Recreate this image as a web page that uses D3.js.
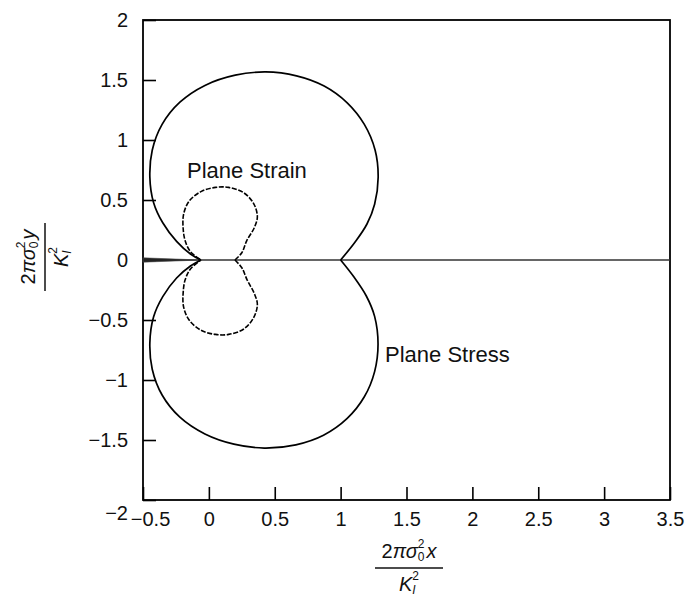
<!DOCTYPE html>
<html>
<head>
<meta charset="utf-8">
<script src="https://cdn.jsdelivr.net/npm/d3@7/dist/d3.min.js"></script>
<style>
  html, body { margin: 0; padding: 0; background: #fff; }
  svg { display: block; font-family: "Liberation Sans", Arial, Helvetica, sans-serif; }
</style>
</head>
<body>
<svg id="chart" width="693" height="599"></svg>
<script>
// ---------------- data ----------------
const xTicks = [-0.5, 0, 0.5, 1, 1.5, 2, 2.5, 3, 3.5];
const xTickLabels = ["−0.5", "0", "0.5", "1", "1.5", "2", "2.5", "3", "3.5"];
const yTicks = [-2, -1.5, -1, -0.5, 0, 0.5, 1, 1.5, 2];
const yTickLabels = ["−2", "−1.5", "−1", "−0.5", "0", "0.5", "1", "1.5", "2"];

// Plane stress plastic zone boundary, upper half (from right cusp, counter-clockwise)
const stressUpper = [
  [1.0, 0], [1.11, 0.15], [1.2, 0.3], [1.258, 0.465], [1.285, 0.69],
  [1.262, 0.915], [1.18, 1.13], [1.05, 1.31], [0.875, 1.45], [0.665, 1.535],
  [0.43, 1.567], [0.2, 1.54], [-0.03, 1.455], [-0.22, 1.315], [-0.355, 1.13],
  [-0.43, 0.915], [-0.448, 0.69], [-0.42, 0.48], [-0.35, 0.31],
  [-0.245, 0.155], [-0.14, 0.05], [-0.06, 0]
];
// Plane stress, lower half (from right cusp, clockwise)
const stressLower = [
  [1.0, 0], [1.1, -0.14], [1.195, -0.3], [1.258, -0.47], [1.284, -0.7],
  [1.258, -0.93], [1.18, -1.14], [1.05, -1.32], [0.87, -1.46], [0.66, -1.54],
  [0.42, -1.567], [0.19, -1.535], [-0.03, -1.45], [-0.22, -1.31], [-0.355, -1.125],
  [-0.43, -0.91], [-0.448, -0.69], [-0.42, -0.475], [-0.35, -0.305],
  [-0.245, -0.15], [-0.14, -0.05], [-0.06, 0]
];
// Plane strain boundary, upper lobe
const strainUpper = [
  [0.198, 0], [0.25, 0.06], [0.287, 0.16], [0.345, 0.27], [0.368, 0.36],
  [0.34, 0.47], [0.265, 0.56], [0.15, 0.605], [0.05, 0.605], [-0.06, 0.57],
  [-0.15, 0.49], [-0.192, 0.38], [-0.195, 0.26], [-0.18, 0.16],
  [-0.14, 0.07], [-0.06, 0]
];
// Plane strain boundary, lower lobe
const strainLower = [
  [0.198, 0], [0.25, -0.065], [0.29, -0.165], [0.345, -0.28], [0.368, -0.37],
  [0.34, -0.48], [0.265, -0.575], [0.15, -0.62], [0.05, -0.62], [-0.06, -0.585],
  [-0.15, -0.5], [-0.192, -0.39], [-0.195, -0.27], [-0.18, -0.165],
  [-0.14, -0.075], [-0.06, 0]
];
// Crack flanks (wedge from the left edge to the crack tip)
const crack = [[-0.5, 0.018], [-0.06, 0], [-0.5, -0.018]];

const annotations = [
  { text: "Plane Strain", x: -0.166, y: 0.683 },
  { text: "Plane Stress", x: 1.337, y: -0.85 }
];

// ---------------- layout ----------------
const svg = d3.select("#chart");
const mLeft = 143, mRight = 670, mTop = 20, mBottom = 500;

const x = d3.scaleLinear().domain([-0.5, 3.5]).range([mLeft, mRight]);
const y = d3.scaleLinear().domain([-2, 2]).range([mBottom, mTop]);

const tickFont = 20;

// axes
const xAxis = d3.axisBottom(x).tickValues(xTicks)
  .tickFormat((d, i) => xTickLabels[i]).tickSize(-13).tickPadding(12);
const yAxis = d3.axisLeft(y).tickValues(yTicks)
  .tickFormat((d, i) => yTickLabels[i]).tickSize(-13).tickPadding(15);

const gx = svg.append("g").attr("transform", `translate(0,${mBottom})`).call(xAxis);
const gy = svg.append("g").attr("transform", `translate(${mLeft},0)`).call(yAxis);

[gx, gy].forEach(g => {
  g.select(".domain").remove();
  g.selectAll(".tick line").attr("stroke", "#000").attr("stroke-width", 1.6);
  g.selectAll(".tick text").attr("fill", "#111").style("font-size", tickFont + "px")
    .style("font-family", "'Liberation Sans', Arial, sans-serif");
});
// small offsets of the corner labels as in the reference
gx.selectAll(".tick text").filter(d => d === -0.5).attr("dx", 7);
gy.selectAll(".tick text").filter(d => d === -2).attr("dy", "0.95em");

// frame
svg.append("rect")
  .attr("x", mLeft).attr("y", mTop)
  .attr("width", mRight - mLeft).attr("height", mBottom - mTop)
  .attr("fill", "none").attr("stroke", "#000").attr("stroke-width", 1.8);

// horizontal line y = 0
svg.append("line")
  .attr("x1", x(-0.5)).attr("x2", x(3.5))
  .attr("y1", y(0)).attr("y2", y(0))
  .attr("stroke", "#333").attr("stroke-width", 1.5);

// crack wedge
svg.append("path")
  .attr("d", d3.line().x(d => x(d[0])).y(d => y(d[1]))(crack) + "Z")
  .attr("fill", "#222").attr("stroke", "#444").attr("stroke-width", 0.6);

const line = d3.line()
  .x(d => x(d[0])).y(d => y(d[1]))
  .curve(d3.curveCatmullRom.alpha(0.5));

[stressUpper, stressLower].forEach(pts => {
  svg.append("path").attr("d", line(pts))
    .attr("fill", "none").attr("stroke", "#000").attr("stroke-width", 1.7);
});
[strainUpper, strainLower].forEach(pts => {
  svg.append("path").attr("d", line(pts))
    .attr("fill", "none").attr("stroke", "#000").attr("stroke-width", 1.6)
    .attr("stroke-dasharray", "5,1.6");
});

// annotations
svg.selectAll("text.ann").data(annotations).enter().append("text")
  .attr("class", "ann")
  .attr("x", d => x(d.x)).attr("y", d => y(d.y))
  .attr("fill", "#111").style("font-size", "22px")
  .text(d => d.text);

// fraction axis titles (sub/superscripts as separate text pieces)
function fraction(g, varName) {
  const fs = 20, small = 12;
  const num = g.append("text").attr("text-anchor", "middle").attr("y", -10)
    .attr("fill", "#111").style("font-size", fs + "px");
  num.append("tspan").text("2");
  num.append("tspan").style("font-style", "italic").text("πσ");
  num.append("tspan").style("font-size", small + "px").attr("dy", 3).text("0");
  num.append("tspan").style("font-size", small + "px").attr("dx", -6.7).attr("dy", -13.5).text("2");
  num.append("tspan").style("font-style", "italic").attr("dx", 2).attr("dy", 10.5).text(varName);

  g.append("line").attr("x1", -34).attr("x2", 34).attr("y1", 0).attr("y2", 0)
    .attr("stroke", "#111").attr("stroke-width", 1.5);

  const den = g.append("text").attr("text-anchor", "middle").attr("y", 23)
    .attr("fill", "#111").style("font-size", fs + "px");
  den.append("tspan").style("font-style", "italic").text("K");
  den.append("tspan").style("font-size", small + "px").style("font-style", "italic")
    .attr("dy", 3).text("I");
  den.append("tspan").style("font-size", small + "px").attr("dx", -3.3).attr("dy", -14.5).text("2");
}

fraction(svg.append("g").attr("transform", "translate(409,568)"), "x");
fraction(svg.append("g").attr("transform", "translate(45,257) rotate(-90)"), "y");
</script>
</body>
</html>
